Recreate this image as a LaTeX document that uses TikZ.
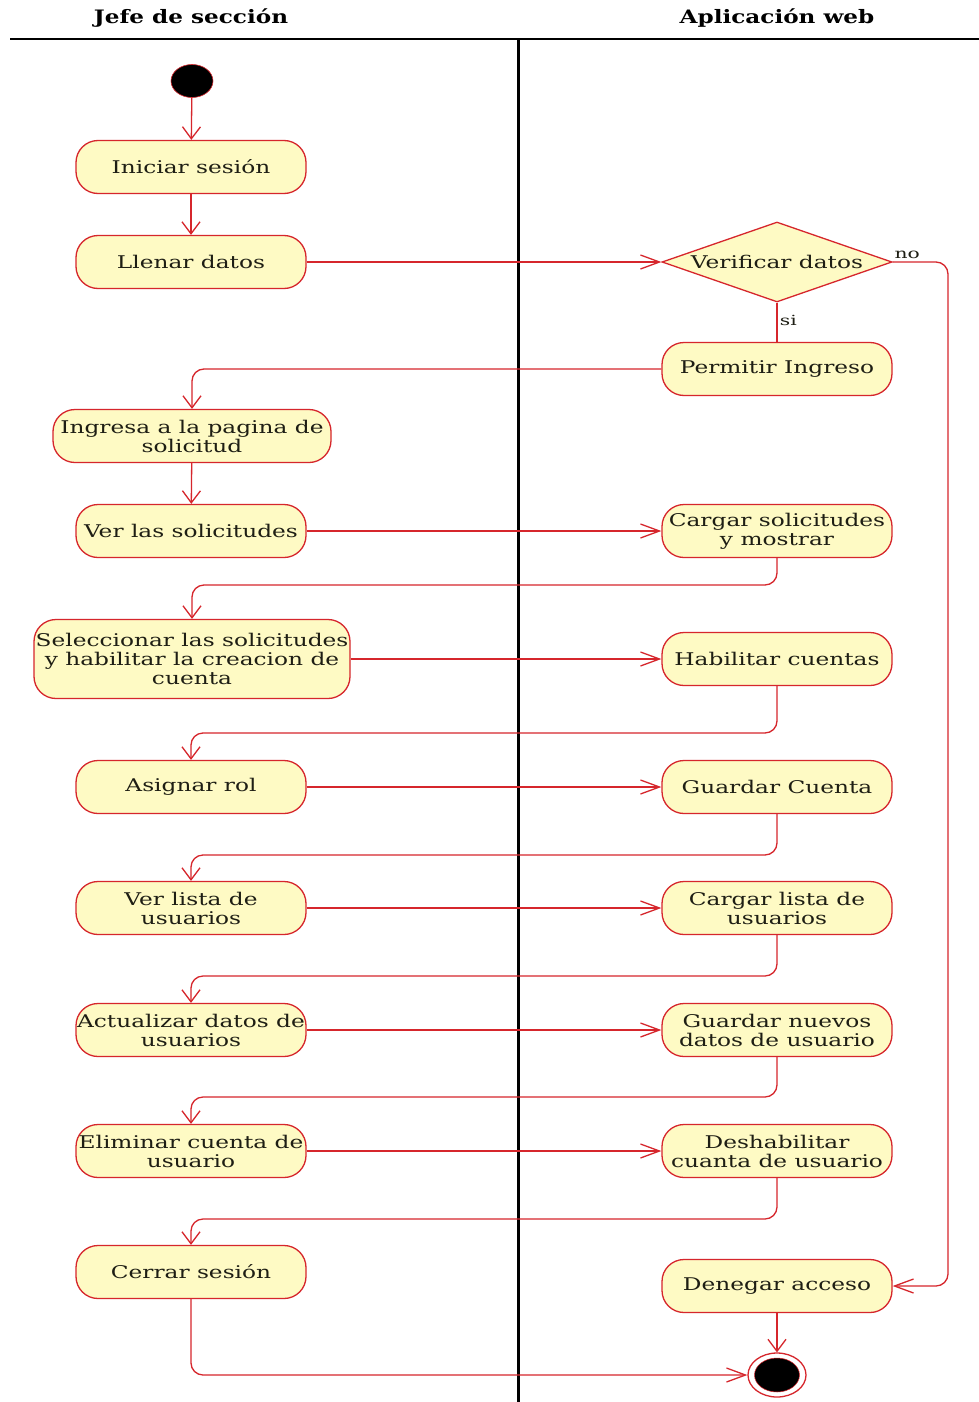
\documentclass[tikz,border=0pt]{standalone}
\usepackage{fontspec}
\setmainfont[FakeStretch=1.33]{DejaVu Serif}
\newfontfamily\lanefont[FakeStretch=1.25]{DejaVu Serif Bold}
\newfontfamily\guardfont[FakeStretch=1.45]{DejaVu Serif}
\usetikzlibrary{arrows.meta,shapes.geometric}
\definecolor{lc}{RGB}{214,38,44}
\definecolor{actfill}{RGB}{254,250,196}
\definecolor{txt}{RGB}{30,30,20}
\tikzset{
  x=1pt, y=-1pt,
  act/.style={draw=lc, fill=actfill, rounded corners=22pt, line width=1.3pt,
    minimum width=230pt, minimum height=53pt, align=center, inner sep=1pt,
    text=txt, font=\fontsize{17.5}{19}\selectfont},
  decide/.style={diamond, draw=lc, fill=actfill, line width=1.3pt, inner sep=0pt,
    minimum width=230pt, minimum height=80pt, aspect=2.875,
    text=txt, font=\fontsize{17.5}{19}\selectfont},
  % arrows whose last segment is vertical
  flow/.style={draw=lc, line width=1.3pt, rounded corners=12pt,
    -{Straight Barb[length=12pt,width=18pt,line width=1.3pt]}},
  % arrows whose last segment is horizontal
  hflow/.style={draw=lc, line width=1.3pt, rounded corners=12pt,
    -{Straight Barb[length=19pt,width=14pt,line width=1.3pt]}},
  plain/.style={draw=lc, line width=1.3pt, rounded corners=12pt},
  lane/.style={font=\lanefont\fontsize{18.5}{20}\selectfont, text=black},
  guard/.style={font=\guardfont\fontsize{14}{16}\selectfont, text=txt},
}
\begin{document}
\begin{tikzpicture}
\useasboundingbox (0,0) rectangle (979,1402);
\fill[white] (0,0) rectangle (979,1402);

% swimlanes
\node[lane] (laneA) at (191,18) {Jefe de sección};
\node[lane] (laneB) at (777,18) {Aplicación web};
\draw[line width=1.2pt] (10,39) -- (979,39);
\draw[line width=3pt] (518,39) -- (518,1402);

% start and end
\node[ellipse, fill=black, draw=lc, line width=0.6pt, minimum width=42pt, minimum height=33pt, inner sep=0pt] (start) at (192,81) {};
\node[ellipse, draw=lc, fill=white, line width=1.3pt, minimum width=58pt, minimum height=44pt, inner sep=0pt] (stop) at (777,1375) {};
\node[ellipse, fill=black, draw=lc, line width=0.5pt, minimum width=45pt, minimum height=34pt, inner sep=0pt] (stopdot) at (777,1375) {};

% left lane activities
\node[act] (iniciar) at (191,167) {Iniciar sesión};
\node[act] (llenar) at (191,262) {Llenar datos};
\node[act, minimum width=278pt] (ingresa) at (192,436) {Ingresa a la pagina de\\solicitud};
\node[act] (verlas) at (191,531) {Ver las solicitudes};
\node[act, minimum width=316pt, minimum height=79pt, inner sep=0pt] (selec) at (192,659) {Seleccionar las solicitudes\\y habilitar la creacion de\\cuenta};
\node[act] (asignar) at (191,787) {Asignar rol};
\node[act] (verlista) at (191,908) {Ver lista de\\usuarios};
\node[act, inner sep=0pt] (actualizar) at (191,1030) {Actualizar datos de\\usuarios};
\node[act, inner sep=0pt] (eliminar) at (191,1151) {Eliminar cuenta de\\usuario};
\node[act] (cerrar) at (191,1272) {Cerrar sesión};

% right lane activities
\node[decide] (verificar) at (777,262) {Verificar datos};
\node[act] (permitir) at (777,369) {Permitir Ingreso};
\node[act] (cargar) at (777,531) {Cargar solicitudes\\y mostrar};
\node[act] (habilitar) at (777,659) {Habilitar cuentas};
\node[act] (guardar) at (777,787) {Guardar Cuenta};
\node[act] (cargarlista) at (777,908) {Cargar lista de\\usuarios};
\node[act] (nuevos) at (777,1030) {Guardar nuevos\\datos de usuario};
\node[act] (deshab) at (777,1151) {Deshabilitar\\cuanta de usuario};
\node[act] (denegar) at (777,1286) {Denegar acceso};

% control flow
\draw[flow] (start) -- (iniciar);
\draw[flow] (iniciar) -- (llenar);
\draw[hflow] (llenar) -- (verificar);
\draw[plain] (verificar.south) -- node[guard, right, pos=0.45, xshift=-1pt] (si) {si} (permitir.north);
\draw[hflow] (verificar.east) -- (948,262) |- (denegar.east);
\node[guard, above right] (no) at (891,262) {no};
\draw[flow] (permitir.west) -| (ingresa.north);
\draw[flow] (ingresa) -- (verlas);
\draw[hflow] (verlas) -- (cargar);
\draw[flow] (cargar.south) |- (450,585) -| (selec.north);
\draw[hflow] (selec) -- (habilitar);
\draw[flow] (habilitar.south) |- (450,733) -| (asignar.north);
\draw[hflow] (asignar) -- (guardar);
\draw[flow] (guardar.south) |- (450,855) -| (verlista.north);
\draw[hflow] (verlista) -- (cargarlista);
\draw[flow] (cargarlista.south) |- (450,976) -| (actualizar.north);
\draw[hflow] (actualizar) -- (nuevos);
\draw[flow] (nuevos.south) |- (450,1097) -| (eliminar.north);
\draw[hflow] (eliminar) -- (deshab);
\draw[flow] (deshab.south) |- (450,1219) -| (cerrar.north);
\draw[hflow] (cerrar.south) |- (stop.west);
\draw[flow] (denegar) -- (stop);
\end{tikzpicture}
\end{document}
